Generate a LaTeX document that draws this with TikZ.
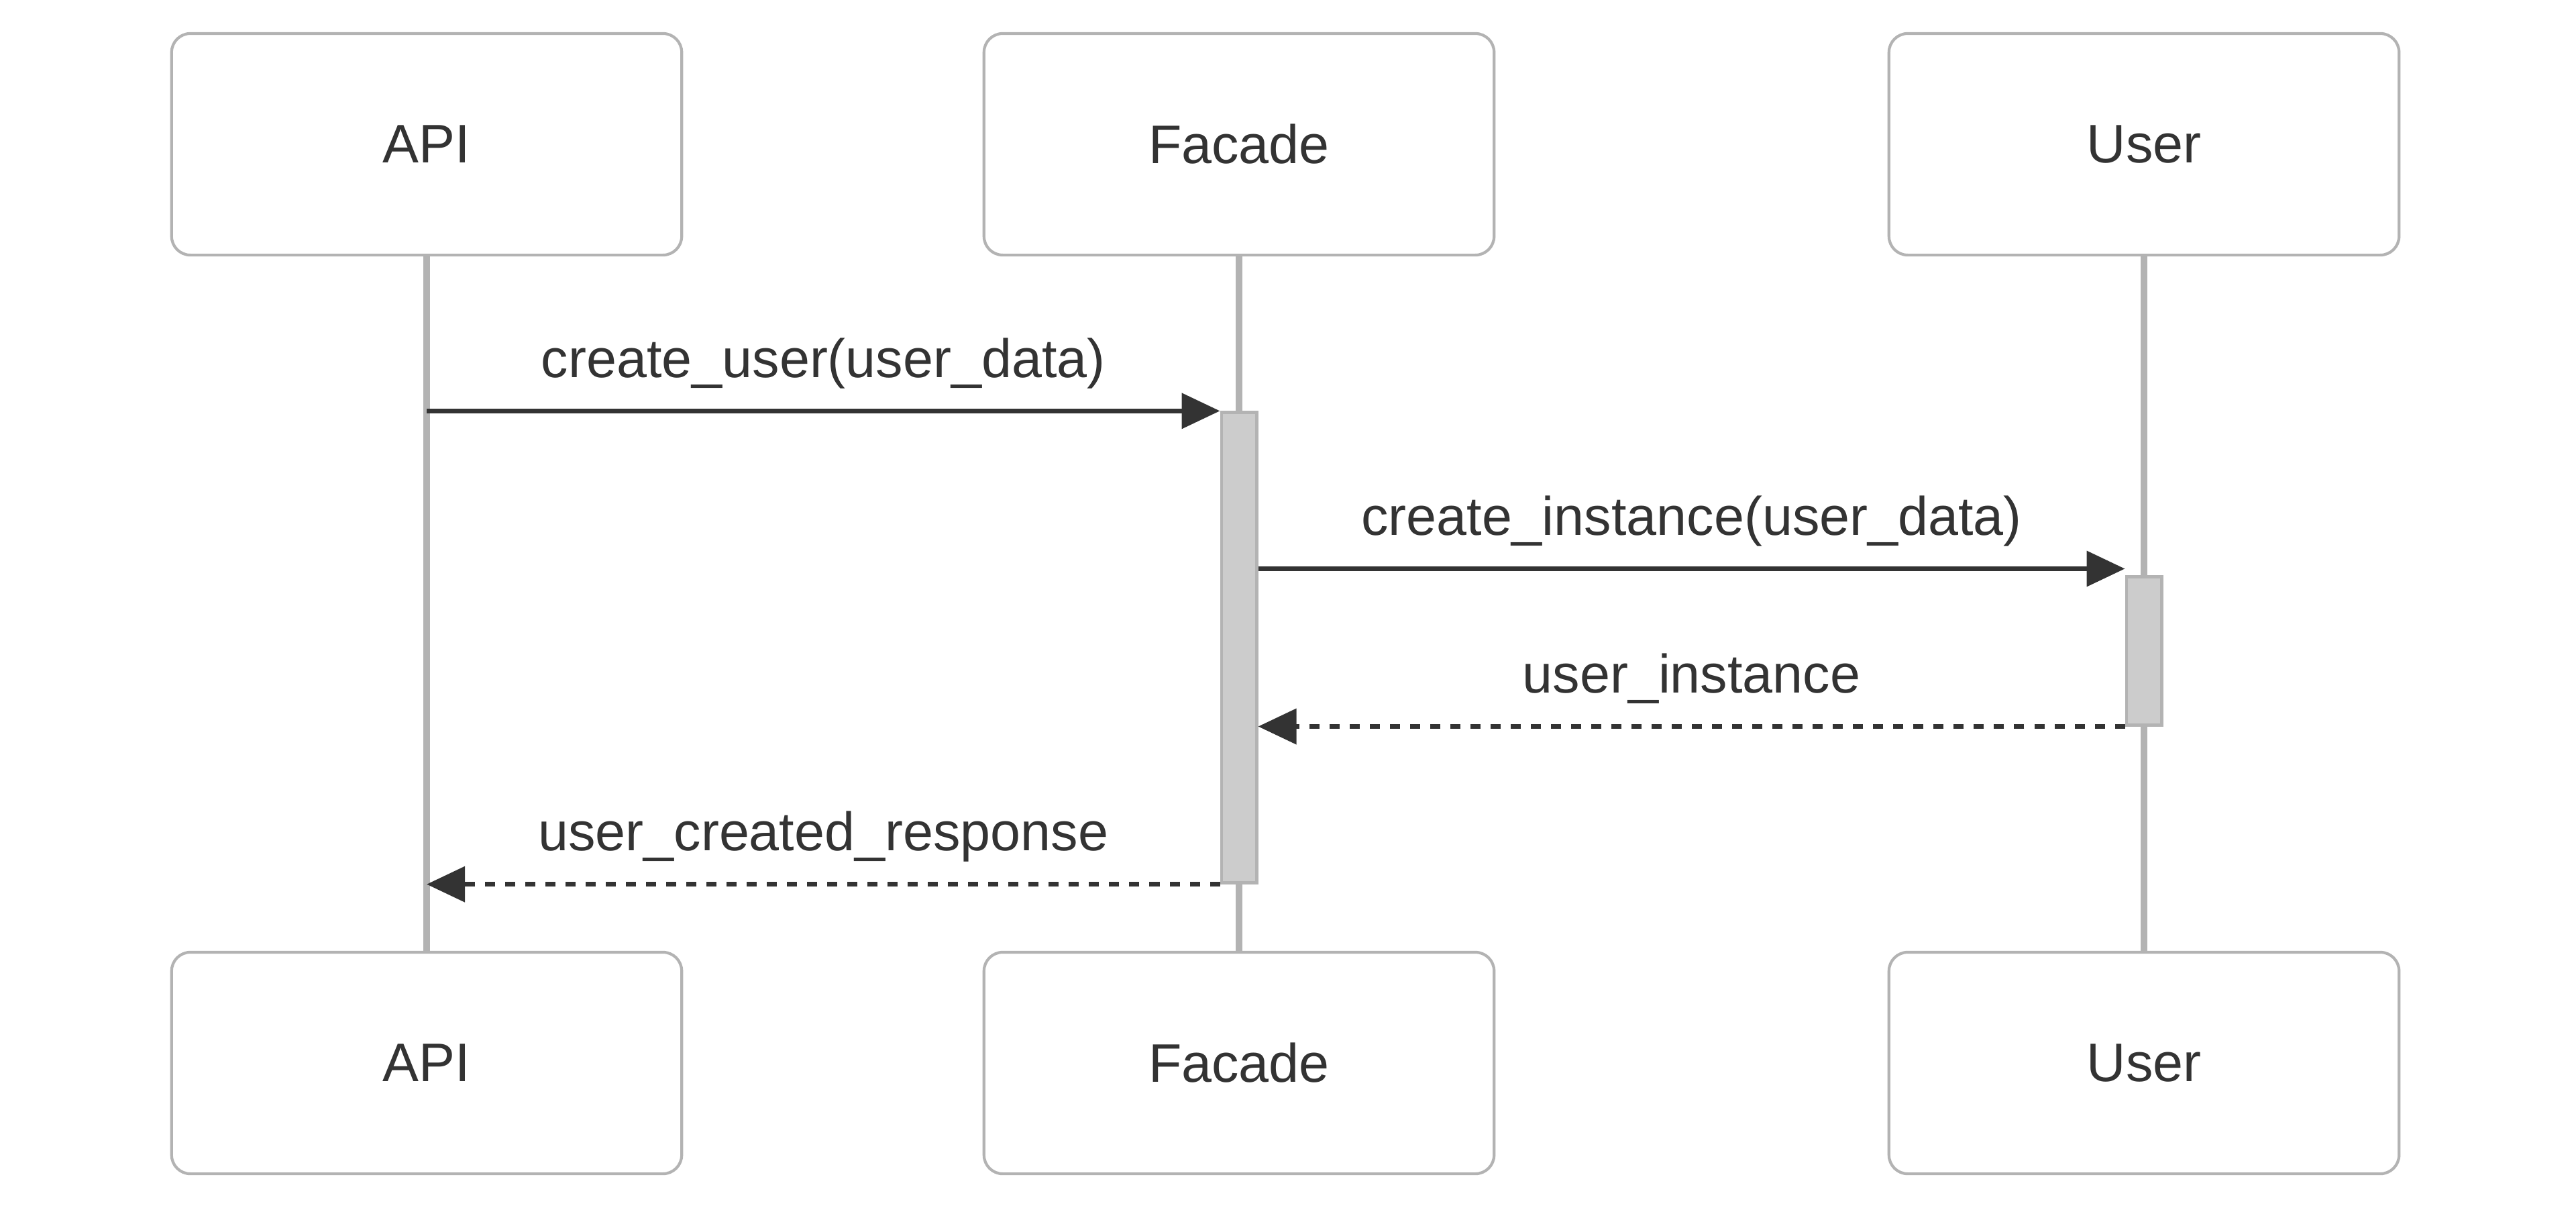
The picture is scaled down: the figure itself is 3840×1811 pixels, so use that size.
\documentclass[tikz,border=0pt]{standalone}
\usepackage{fontspec}
\setmainfont{Liberation Sans}
\usetikzlibrary{arrows.meta,calc}
\definecolor{ink}{HTML}{333333}
\definecolor{edge}{HTML}{B3B3B3}
\definecolor{bar}{HTML}{CCCCCC}

\begin{document}
\begin{tikzpicture}[x=0.01cm,y=-0.01cm,
  actor/.style={draw=edge,line width=1.2pt,rounded corners=8pt,fill=white,minimum width=7.6cm,minimum height=3.3cm,font=\fontsize{23}{28}\selectfont,text=ink},
  life/.style={edge,line width=2.85pt},
  act/.style={draw=edge,line width=1.4pt,fill=bar,minimum width=0.52cm,inner sep=0pt},
  msg/.style={-{Triangle[length=0.57cm,width=0.52cm]},ink,line width=2pt},
  ret/.style={msg,dash pattern=on 0.15cm off 0.15cm},
  lbl/.style={font=\fontsize{23}{28}\selectfont,text=ink,anchor=base}]
  \useasboundingbox (0,0) rectangle (3840,1811);
  \node[actor] (api) at (636,215) {API};
  \node[actor] (facade) at (1847,215) {Facade};
  \node[actor] (user) at (3196,215) {User};
  \node[actor] (api2) at (636,1584) {API};
  \node[actor] (facade2) at (1847,1584) {Facade};
  \node[actor] (user2) at (3196,1584) {User};
  \draw[life] (api.south) -- (api2.north);
  \draw[life] (facade.south) -- (facade2.north);
  \draw[life] (user.south) -- (user2.north);
  % activations
  \node[act,minimum height=7cm] (act1) at (1847,965) {};
  \node[act,minimum height=2.2cm] (act2) at (3196,970) {};
  % messages
  \draw[msg] (api.south |- act1.north) -- (act1.north west);
  \draw[msg] ($(act1.east |- act2.north)+(0,-10)$) -- ($(act2.north west)+(0,-10)$);
  \draw[ret] (act2.south west) -- (act1.east |- act2.south);
  \draw[ret] (act1.south west) -- (api.south |- act1.south);
  \node[lbl] (l1) at ($(api.south |- act1.north)!0.5!(act1.north west)+(0,-50)$) {create\_user(user\_data)};
  \node[lbl] (l2) at ($(act1.east |- act2.north)!0.5!(act2.north west)+(0,-60)$) {create\_instance(user\_data)};
  \node[lbl] (l3) at ($(act2.south west)!0.5!(act1.east |- act2.south)+(0,-50)$) {user\_instance};
  \node[lbl] (l4) at ($(act1.south west)!0.5!(api.south |- act1.south)+(0,-50)$) {user\_created\_response};
\end{tikzpicture}
\end{document}
